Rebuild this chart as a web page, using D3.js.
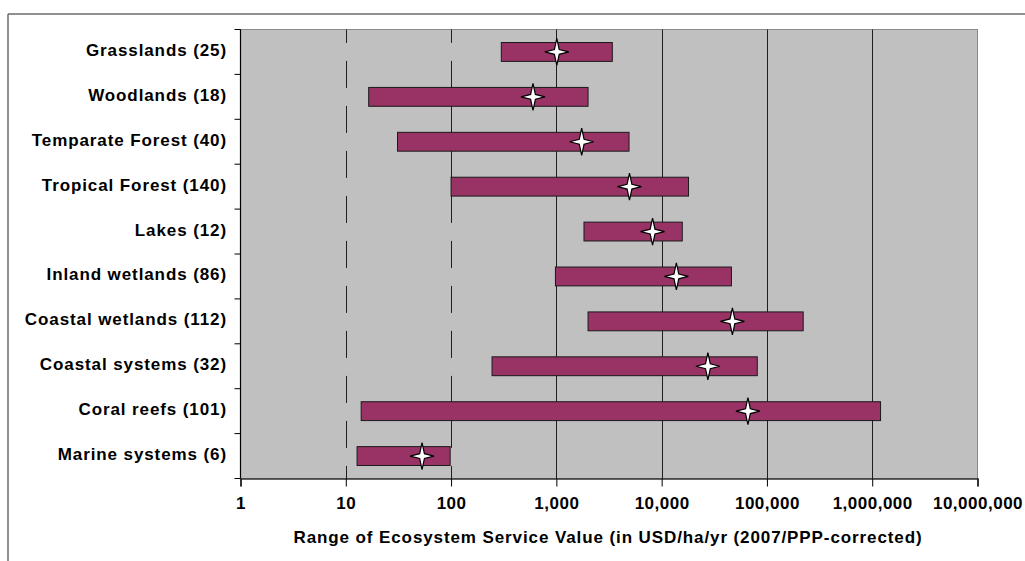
<!DOCTYPE html>
<html>
<head>
<meta charset="utf-8">
<script src="https://cdn.jsdelivr.net/npm/d3@7"></script>
<style>
  html, body { margin: 0; padding: 0; background: #ffffff; }
  svg { display: block; }
  text { font-family: "Liberation Sans", Arial, sans-serif; font-weight: bold; fill: #000; }
</style>
</head>
<body>
<svg id="chart" width="1025" height="561"></svg>
<script>
const categories = [
  "Grasslands (25)",
  "Woodlands (18)",
  "Temparate Forest (40)",
  "Tropical Forest (140)",
  "Lakes (12)",
  "Inland wetlands (86)",
  "Coastal wetlands (112)",
  "Coastal systems (32)",
  "Coral reefs (101)",
  "Marine systems (6)"
];
const minValues = [300, 16.5, 31, 100, 1830, 980, 2000, 245, 14, 12.8];
const maxValues = [3400, 2000, 4900, 18000, 15700, 46000, 221000, 81000, 1200000, 98];
const meanValues = [1010, 600, 1740, 4950, 8200, 13800, 47000, 27500, 66000, 53];
const tickValues = [1, 10, 100, 1000, 10000, 100000, 1000000, 10000000];
const dashedTicks = [10, 100];
const xTitle = "Range of Ecosystem Service Value (in USD/ha/yr (2007/PPP-corrected)";

const svg = d3.select("#chart");
const margin = { left: 240.5, right: 1025 - 977.5, top: 29.5, bottom: 561 - 478.5 };
const W = 1025, H = 561;

// outer frame
svg.append("line").attr("x1", 8).attr("x2", W).attr("y1", 14).attr("y2", 14)
  .attr("stroke", "#6b6b6b").attr("stroke-width", 1.5);
svg.append("line").attr("x1", 8).attr("x2", 8).attr("y1", 14).attr("y2", H)
  .attr("stroke", "#6b6b6b").attr("stroke-width", 1.5);

const x = d3.scaleLog().domain([1, 10000000]).range([margin.left, W - margin.right]);
const y = d3.scaleBand().domain(categories).range([margin.top, H - margin.bottom]).paddingInner(0.58).paddingOuter(0.29);
const yb = d3.scaleBand().domain(categories).range([margin.top, H - margin.bottom]);

// plot background
svg.append("rect")
  .attr("x", x(1)).attr("y", margin.top)
  .attr("width", x(10000000) - x(1)).attr("height", H - margin.bottom - margin.top)
  .attr("fill", "#c0c0c0").attr("stroke", "#8a8a8a").attr("stroke-width", 1);

// gridlines
const grid = svg.append("g");
grid.selectAll("line").data(tickValues.filter(d => d > 1 && d < 10000000)).enter().append("line")
  .attr("x1", d => Math.round(x(d)) + 0.5).attr("x2", d => Math.round(x(d)) + 0.5)
  .attr("y1", margin.top).attr("y2", H - margin.bottom)
  .attr("stroke", "#1e1e1e").attr("stroke-width", 1)
  .attr("stroke-dasharray", d => dashedTicks.includes(d) ? "27,18" : null)
  .attr("stroke-dashoffset", d => dashedTicks.includes(d) ? 13.6 : null);

// bars
const rows = categories.map((c, i) => ({ c, lo: minValues[i], hi: maxValues[i], m: meanValues[i] }));
svg.append("g").selectAll("rect").data(rows).enter().append("rect")
  .attr("x", d => x(d.lo)).attr("y", d => y(d.c))
  .attr("width", d => x(d.hi) - x(d.lo)).attr("height", y.bandwidth())
  .attr("fill", "#993366").attr("stroke", "#1a1a1a").attr("stroke-width", 1);

// stars
function starPath(cx, cy, rx, ry, r) {
  return `M${cx},${cy - ry} L${cx + r},${cy - r} L${cx + rx},${cy} L${cx + r},${cy + r} L${cx},${cy + ry} L${cx - r},${cy + r} L${cx - rx},${cy} L${cx - r},${cy - r} Z`;
}
svg.append("g").selectAll("path").data(rows).enter().append("path")
  .attr("d", d => starPath(x(d.m), y(d.c) + y.bandwidth() / 2, 12, 13.5, 2.4))
  .attr("fill", "#ffffff").attr("stroke", "#000").attr("stroke-width", 1.2).attr("stroke-linejoin", "miter");

// y axis
const yAxis = svg.append("g").attr("transform", `translate(${x(1)},0)`);
yAxis.append("line").attr("x1", 0).attr("x2", 0).attr("y1", margin.top).attr("y2", H - margin.bottom)
  .attr("stroke", "#000").attr("stroke-width", 1.2);
const yTicks = categories.map(c => yb(c)).concat([H - margin.bottom]);
yAxis.selectAll("line.t").data(yTicks).enter().append("line").attr("class", "t")
  .attr("x1", -6).attr("x2", 0).attr("y1", d => d).attr("y2", d => d)
  .attr("stroke", "#000").attr("stroke-width", 1);
svg.append("g").selectAll("text").data(categories).enter().append("text")
  .attr("x", 227).attr("y", d => yb(d) + yb.bandwidth() / 2 - 2)
  .attr("dy", "0.35em").attr("text-anchor", "end").attr("font-size", 17)
  .attr("letter-spacing", "0.9")
  .text(d => d);

// x axis
const xAxis = d3.axisBottom(x).tickValues(tickValues).tickSize(8).tickPadding(10)
  .tickFormat(d3.format(","));
const gx = svg.append("g").attr("transform", `translate(0,${H - margin.bottom})`).call(xAxis);
gx.select(".domain").attr("stroke", "#333").attr("stroke-width", 1.5);
gx.selectAll(".tick line").attr("stroke", "#000");
gx.selectAll(".tick text").attr("font-size", 17).attr("font-family", "Liberation Sans, Arial, sans-serif")
  .attr("font-weight", "bold").attr("fill", "#000").attr("dy", "0.75em").attr("letter-spacing", "0.5");

svg.append("text").attr("x", (x(1) + x(10000000)) / 2 - 1).attr("y", 543)
  .attr("text-anchor", "middle").attr("font-size", 17).attr("letter-spacing", "0.9")
  .text(xTitle);
</script>
</body>
</html>
